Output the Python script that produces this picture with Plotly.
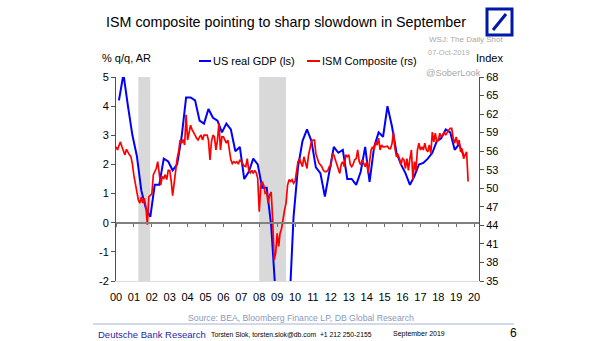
import pandas as pd
import plotly.graph_objects as go

# US real GDP, % y/y, quarterly from 2000Q1 (left scale)
gdp_yoy = [
    4.2, 5.1, 4.0, 3.0,
    2.3, 1.1, 0.5, 0.2,
    1.3, 1.3, 2.2, 2.1,
    1.8, 2.0, 2.95, 4.3,
    4.3, 4.2, 3.5, 3.4,
    3.9, 3.6, 3.5, 3.1,
    3.4, 3.2, 2.45, 2.6,
    1.5, 1.75, 2.2, 2.0,
    1.2, 1.2, -0.1, -2.5,
    -3.3, -3.9, -3.1, 0.2,
    1.9, 2.8, 3.2, 2.8,
    1.9, 1.7, 0.9, 1.7,
    2.6, 2.4, 2.5, 1.5,
    1.5, 1.3, 1.75, 2.6,
    1.4, 2.6, 3.1, 2.95,
    4.0, 3.3, 2.4, 2.0,
    1.7, 1.3, 1.6, 2.0,
    2.05, 2.2, 2.4, 2.8,
    2.9, 3.2, 3.1, 2.5,
    2.7, 2.3,
]

# ISM composite index, monthly from Jan 2000 to Sep 2019 (right scale)
ism_composite = [
    56.7, 56.2, 56.9, 57.5, 56.7, 56.0, 55.4, 56.3, 55.7, 55.4, 55.1, 53.9,
    52.0, 50.8, 49.6, 48.1, 47.6, 48.6, 47.6, 48.4, 47.0, 44.1, 48.6, 48.9,
    49.1, 52.2, 52.7, 53.2, 54.3, 51.9, 50.5, 51.9, 51.6, 52.2, 51.4, 52.9,
    52.9, 51.1, 48.8, 50.8, 53.2, 54.8, 55.9, 57.8, 57.3, 57.9, 57.0, 61.9,
    57.8, 58.9, 60.2, 59.5, 58.9, 58.6, 58.1, 57.8, 58.3, 58.6, 57.8, 58.6,
    58.6, 58.6, 57.8, 54.6, 57.5, 58.6, 58.3, 56.2, 57.8, 60.5, 56.2, 58.3,
    58.3, 57.8, 57.3, 57.8, 56.2, 54.6, 54.0, 54.3, 54.1, 54.3, 53.9, 54.6,
    54.3, 53.8, 53.6, 53.5, 54.8, 52.9, 52.5, 52.9, 52.4, 52.9, 52.5, 51.6,
    46.2, 50.3, 51.1, 50.5, 49.2, 49.4, 47.6, 48.9, 49.4, 44.9, 38.4, 39.5,
    42.7, 40.6, 42.7, 43.5, 45.4, 46.5, 47.6, 50.5, 51.4, 51.1, 51.4, 50.8,
    51.1, 52.9, 54.3, 54.8, 54.1, 53.5, 55.1, 54.0, 53.2, 55.3, 56.7, 57.6,
    57.8, 57.8, 55.6, 54.6, 54.1, 53.8, 53.5, 52.9, 52.7, 52.7, 52.9, 53.5,
    53.5, 55.6, 55.4, 54.6, 53.8, 52.9, 52.4, 53.9, 54.3, 53.5, 55.4, 55.1,
    55.4, 53.8, 53.5, 53.9, 54.6, 54.8, 56.2, 54.3, 53.8, 54.6, 54.0, 53.5,
    54.3, 52.4, 54.3, 56.2, 56.7, 56.2, 57.5, 57.0, 58.1, 56.2, 57.0, 56.7,
    56.7, 56.7, 56.8, 56.4, 56.4, 57.2, 59.1, 56.4, 55.1, 55.4, 54.8, 53.8,
    54.8, 54.6, 53.2, 54.8, 52.9, 54.8, 56.2, 51.4, 54.3, 52.9, 56.2, 57.3,
    56.2, 56.7, 56.2, 57.3, 56.2, 55.9, 57.0, 55.6, 59.1, 57.5, 58.9, 57.5,
    57.8, 58.9, 58.3, 58.6, 59.1, 58.6, 59.1, 59.4, 59.7, 59.7, 58.1, 57.3,
    58.3, 57.0, 57.8, 55.9, 56.4, 54.8, 55.4, 55.9, 51.1,
]

# NBER recessions (shaded)
recession_start = ["2001-04-01", "2008-01-01"]
recession_end = ["2001-11-30", "2009-06-30"]

year_labels = [f"{y % 100:02d}" for y in range(2000, 2021)]
left_ticks = list(range(-2, 6))
right_ticks = list(range(35, 69, 3))

gdp_dates = pd.date_range("2000-03-01", periods=len(gdp_yoy), freq="3MS")
ism_dates = pd.date_range("2000-01-01", periods=len(ism_composite), freq="MS")
year_starts = pd.date_range("2000-01-01", periods=len(year_labels), freq="YS")

FONT = "Arial, Liberation Sans, sans-serif"
W, H = 605, 341
L, R, T, B = 116, 479, 77, 281


def fx(px):
    """figure pixel -> plot-area paper x"""
    return (px - L) / (R - L)


def fy(py):
    """figure pixel -> plot-area paper y"""
    return (B - py) / (B - T)


fig = go.Figure()

fig.add_trace(go.Scatter(
    x=gdp_dates, y=gdp_yoy, mode="lines", name="US real GDP (ls)",
    line=dict(color="#0000ff", width=2), yaxis="y", hoverinfo="skip"))
fig.add_trace(go.Scatter(
    x=ism_dates, y=ism_composite, mode="lines", name="ISM Composite (rs)",
    line=dict(color="#ff0000", width=1.7), yaxis="y2", hoverinfo="skip"))
# carrier for the zero-line axis with year ticks
fig.add_trace(go.Scatter(
    x=[year_starts[0]], y=[None], xaxis="x2", yaxis="y",
    showlegend=False, hoverinfo="skip"))

shapes = []
for s, e in zip(recession_start, recession_end):
    shapes.append(dict(type="rect", xref="x", yref="paper", x0=s, x1=e,
                       y0=0, y1=1, fillcolor="#d9d9d9", line=dict(width=0),
                       layer="below"))

# legend swatches
shapes.append(dict(type="line", xref="paper", yref="paper",
                   x0=fx(199), x1=fx(211), y0=fy(61), y1=fy(61),
                   line=dict(color="#0000ff", width=2)))
shapes.append(dict(type="line", xref="paper", yref="paper",
                   x0=fx(307), x1=fx(320), y0=fy(61), y1=fy(61),
                   line=dict(color="#ff0000", width=2)))

# Deutsche Bank logo
shapes.append(dict(type="rect", xref="paper", yref="paper",
                   x0=fx(487), x1=fx(512), y0=fy(9), y1=fy(35),
                   line=dict(color="#0018a8", width=3), fillcolor="white"))
shapes.append(dict(type="line", xref="paper", yref="paper",
                   x0=fx(493), x1=fx(506), y0=fy(30), y1=fy(14),
                   line=dict(color="#0018a8", width=3)))

# footer rule
shapes.append(dict(type="line", xref="paper", yref="paper",
                   x0=fx(93), x1=fx(514), y0=fy(324), y1=fy(324),
                   line=dict(color="#c5cde0", width=1.5)))


def label(text, x, y, size, color="black", anchor="left", **kw):
    return dict(text=text, xref="paper", yref="paper", x=fx(x), y=fy(y),
                xanchor=anchor, yanchor="middle", showarrow=False,
                font=dict(family=FONT, size=size, color=color), **kw)


annotations = [
    label("ISM composite pointing to sharp slowdown in September", 286, 22, 14.3, anchor="center"),
    label("WSJ: The Daily Shot", 427, 40, 8, color="#a8a8a8"),
    label("07-Oct-2019", 472, 53, 7.5, color="#b0b0b0", anchor="right"),
    label("% q/q, AR", 100, 58, 11),
    label("Index", 474, 58, 11),
    label("US real GDP (ls)", 211, 61, 11),
    label("ISM Composite (rs)", 320, 61, 11),
    label("@SoberLook", 424, 73, 9.3, color="#a8a8a8"),
    label("Source: BEA, Bloomberg Finance LP, DB Global Research", 301, 318, 8.7,
          color="#8a9abb", anchor="center"),
    label("Deutsche Bank Research", 96, 334, 9.5, color="#1f1fa8"),
    label("Torsten Slok, torsten.slok@db.com  +1 212 250-2155", 209, 334, 6.8),
    label("September 2019", 391, 334, 7),
    label("6", 508, 333, 12),
]

axis_line = "#505050"
tickfont = dict(family=FONT, size=11, color="black")

fig.update_layout(
    width=W, height=H, autosize=False,
    margin=dict(l=L, r=W - R, t=T, b=H - B, pad=0),
    paper_bgcolor="white", plot_bgcolor="white",
    showlegend=False,
    xaxis=dict(type="date", range=["2000-01-01", "2020-04-10"],
               tickvals=year_starts, ticktext=year_labels, ticks="",
               showline=True, linecolor="#dcdcdc", linewidth=1,
               showgrid=False, zeroline=False, tickfont=tickfont,
               ticklabelstandoff=6),
    xaxis2=dict(type="date", matches="x", overlaying="x", anchor="free",
                position=2 / 7, tickvals=year_starts, showticklabels=False,
                ticks="outside", ticklen=3, tickcolor="#707070", tickwidth=1,
                showline=True, linecolor="#808080", linewidth=2,
                showgrid=False, zeroline=False),
    yaxis=dict(range=[-2, 5], tickvals=left_ticks,
               ticktext=[str(v) for v in left_ticks], showline=True,
               linecolor=axis_line, linewidth=1, ticks="outside", ticklen=4,
               tickcolor=axis_line, showgrid=False, zeroline=False,
               tickfont=tickfont),
    yaxis2=dict(range=[35, 68], tickvals=right_ticks, overlaying="y",
                side="right", anchor="x", showline=True, linecolor=axis_line,
                linewidth=1, ticks="outside", ticklen=4, tickcolor=axis_line,
                showgrid=False, zeroline=False, tickfont=tickfont),
    shapes=shapes,
    annotations=annotations,
)

fig.write_html("out.html")
